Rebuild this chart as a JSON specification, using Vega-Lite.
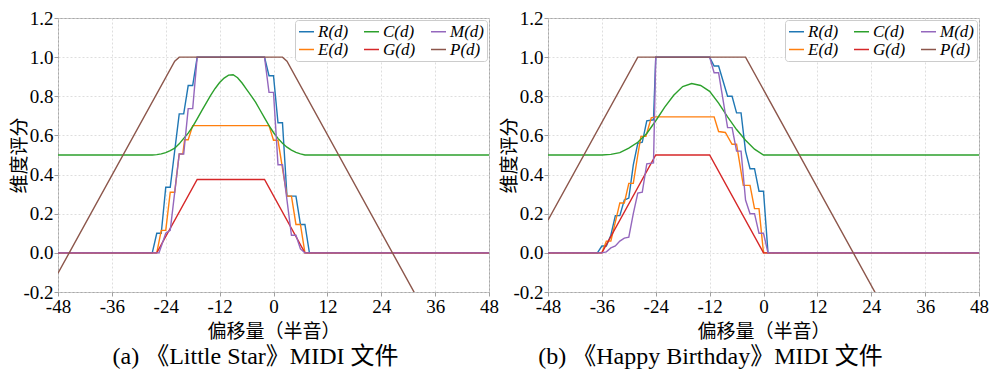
{
  "$schema": "https://vega.github.io/schema/vega-lite/v6.json",
  "padding": {"left": 9, "top": 8, "right": 5, "bottom": 5},
  "bounds": "flush",
  "spacing": 59,
  "config": {
    "font": "Liberation Serif, Noto Sans CJK SC",
    "view": {"stroke": "#a8a8a8", "strokeWidth": 1},
    "axis": {
      "labelFont": "Liberation Serif", "labelFontSize": 19, "labelColor": "black",
      "titleFont": "Liberation Serif, Noto Sans CJK SC", "titleFontSize": 19, "titleFontWeight": "normal", "titleColor": "black",
      "domain": false, "tickColor": "#888888", "tickSize": 4, "tickWidth": 0.8,
      "grid": true, "gridColor": "#d6d6d6", "gridDash": [2, 2], "gridWidth": 0.8,
      "labelFlush": false, "labelOverlap": false, "labelPadding": 1
    },
    "title": {"font": "Liberation Serif, Noto Sans CJK SC", "fontSize": 24, "fontWeight": "normal", "color": "black"},
    "legend": {
      "title": null, "orient": "top-right", "offset": 2, "columns": 3, "direction": "vertical",
      "symbolType": "stroke", "symbolSize": 225, "symbolStrokeWidth": 1.5,
      "labelFont": "Liberation Serif", "labelFontStyle": "italic", "labelFontSize": 17, "labelColor": "black",
      "fillColor": "white", "strokeColor": "#cccccc", "cornerRadius": 3, "padding": 3,
      "rowPadding": 0, "columnPadding": 12, "labelOffset": 3
    }
  },
  "resolve": {"scale": {"color": "independent"}, "legend": {"color": "independent"}},
  "datasets": {
    "a": [
      {"s":"R(d)","d":-48,"v":0},{"s":"R(d)","d":-27,"v":0},{"s":"R(d)","d":-26,"v":0.1},{"s":"R(d)","d":-25,"v":0.1},{"s":"R(d)","d":-24,"v":0.335},{"s":"R(d)","d":-23,"v":0.335},{"s":"R(d)","d":-21,"v":0.71},{"s":"R(d)","d":-20,"v":0.71},{"s":"R(d)","d":-19,"v":0.855},{"s":"R(d)","d":-18,"v":0.855},{"s":"R(d)","d":-17,"v":1},{"s":"R(d)","d":-2,"v":1},{"s":"R(d)","d":-1,"v":0.905},{"s":"R(d)","d":0,"v":0.905},{"s":"R(d)","d":1,"v":0.665},{"s":"R(d)","d":2,"v":0.665},{"s":"R(d)","d":3,"v":0.29},{"s":"R(d)","d":5,"v":0.29},{"s":"R(d)","d":6,"v":0.145},{"s":"R(d)","d":7,"v":0.145},{"s":"R(d)","d":8,"v":0},{"s":"R(d)","d":48,"v":0},
      {"s":"E(d)","d":-48,"v":0},{"s":"E(d)","d":-26,"v":0},{"s":"E(d)","d":-25,"v":0.115},{"s":"E(d)","d":-24,"v":0.115},{"s":"E(d)","d":-23,"v":0.31},{"s":"E(d)","d":-22,"v":0.31},{"s":"E(d)","d":-21,"v":0.505},{"s":"E(d)","d":-20.2,"v":0.505},{"s":"E(d)","d":-19.8,"v":0.578},{"s":"E(d)","d":-19,"v":0.578},{"s":"E(d)","d":-18,"v":0.65},{"s":"E(d)","d":-1,"v":0.65},{"s":"E(d)","d":0,"v":0.575},{"s":"E(d)","d":1,"v":0.575},{"s":"E(d)","d":3,"v":0.29},{"s":"E(d)","d":4,"v":0.29},{"s":"E(d)","d":5,"v":0.145},{"s":"E(d)","d":6,"v":0.145},{"s":"E(d)","d":7,"v":0},{"s":"E(d)","d":48,"v":0},
      {"s":"C(d)","d":-48,"v":0.5},{"s":"C(d)","d":-27,"v":0.5},{"s":"C(d)","d":-26,"v":0.502},{"s":"C(d)","d":-25,"v":0.506},{"s":"C(d)","d":-24,"v":0.512},{"s":"C(d)","d":-23,"v":0.522},{"s":"C(d)","d":-22,"v":0.535},{"s":"C(d)","d":-21,"v":0.557},{"s":"C(d)","d":-20,"v":0.585},{"s":"C(d)","d":-19,"v":0.612},{"s":"C(d)","d":-18,"v":0.645},{"s":"C(d)","d":-17,"v":0.685},{"s":"C(d)","d":-16,"v":0.725},{"s":"C(d)","d":-15,"v":0.765},{"s":"C(d)","d":-14,"v":0.805},{"s":"C(d)","d":-13,"v":0.84},{"s":"C(d)","d":-12,"v":0.87},{"s":"C(d)","d":-11,"v":0.893},{"s":"C(d)","d":-10,"v":0.908},{"s":"C(d)","d":-9,"v":0.91},{"s":"C(d)","d":-8,"v":0.895},{"s":"C(d)","d":-7,"v":0.868},{"s":"C(d)","d":-6,"v":0.835},{"s":"C(d)","d":-5,"v":0.803},{"s":"C(d)","d":-4,"v":0.77},{"s":"C(d)","d":-3,"v":0.73},{"s":"C(d)","d":-2,"v":0.69},{"s":"C(d)","d":-1,"v":0.65},{"s":"C(d)","d":0,"v":0.615},{"s":"C(d)","d":1,"v":0.585},{"s":"C(d)","d":2,"v":0.56},{"s":"C(d)","d":3,"v":0.54},{"s":"C(d)","d":4,"v":0.525},{"s":"C(d)","d":5,"v":0.513},{"s":"C(d)","d":6,"v":0.506},{"s":"C(d)","d":7,"v":0.5},{"s":"C(d)","d":48,"v":0.5},
      {"s":"G(d)","d":-48,"v":0},{"s":"G(d)","d":-26,"v":0},{"s":"G(d)","d":-17,"v":0.375},{"s":"G(d)","d":-2,"v":0.375},{"s":"G(d)","d":7,"v":0},{"s":"G(d)","d":48,"v":0},
      {"s":"M(d)","d":-48,"v":0},{"s":"M(d)","d":-25.5,"v":0},{"s":"M(d)","d":-24,"v":0.1},{"s":"M(d)","d":-23,"v":0.115},{"s":"M(d)","d":-21,"v":0.505},{"s":"M(d)","d":-20,"v":0.505},{"s":"M(d)","d":-19,"v":0.737},{"s":"M(d)","d":-18,"v":0.737},{"s":"M(d)","d":-17,"v":1},{"s":"M(d)","d":-2,"v":1},{"s":"M(d)","d":-1,"v":0.82},{"s":"M(d)","d":0,"v":0.82},{"s":"M(d)","d":1,"v":0.45},{"s":"M(d)","d":2,"v":0.45},{"s":"M(d)","d":4,"v":0.09},{"s":"M(d)","d":5,"v":0.09},{"s":"M(d)","d":6,"v":0.02},{"s":"M(d)","d":7,"v":0},{"s":"M(d)","d":48,"v":0},
      {"s":"P(d)","d":-48,"v":-0.104},{"s":"P(d)","d":-22,"v":0.979},{"s":"P(d)","d":-21,"v":1},{"s":"P(d)","d":2,"v":1},{"s":"P(d)","d":3,"v":0.979},{"s":"P(d)","d":48,"v":-0.896}
    ],
    "b": [
      {"s":"R(d)","d":-48,"v":0},{"s":"R(d)","d":-37,"v":0},{"s":"R(d)","d":-36,"v":0.035},{"s":"R(d)","d":-35,"v":0.035},{"s":"R(d)","d":-34,"v":0.09},{"s":"R(d)","d":-33,"v":0.19},{"s":"R(d)","d":-32,"v":0.19},{"s":"R(d)","d":-31,"v":0.27},{"s":"R(d)","d":-30,"v":0.28},{"s":"R(d)","d":-29,"v":0.45},{"s":"R(d)","d":-28,"v":0.56},{"s":"R(d)","d":-27,"v":0.565},{"s":"R(d)","d":-26,"v":0.675},{"s":"R(d)","d":-24.5,"v":0.68},{"s":"R(d)","d":-24,"v":1},{"s":"R(d)","d":-12,"v":1},{"s":"R(d)","d":-11,"v":0.955},{"s":"R(d)","d":-10,"v":0.955},{"s":"R(d)","d":-8,"v":0.8},{"s":"R(d)","d":-7,"v":0.8},{"s":"R(d)","d":-6,"v":0.715},{"s":"R(d)","d":-5,"v":0.715},{"s":"R(d)","d":-4,"v":0.52},{"s":"R(d)","d":-3,"v":0.43},{"s":"R(d)","d":-2,"v":0.43},{"s":"R(d)","d":-1,"v":0.315},{"s":"R(d)","d":0,"v":0.315},{"s":"R(d)","d":1,"v":0},{"s":"R(d)","d":48,"v":0},
      {"s":"E(d)","d":-48,"v":0},{"s":"E(d)","d":-36,"v":0},{"s":"E(d)","d":-35,"v":0.06},{"s":"E(d)","d":-34,"v":0.06},{"s":"E(d)","d":-32,"v":0.255},{"s":"E(d)","d":-31,"v":0.255},{"s":"E(d)","d":-30,"v":0.355},{"s":"E(d)","d":-29,"v":0.355},{"s":"E(d)","d":-28,"v":0.5},{"s":"E(d)","d":-27.3,"v":0.595},{"s":"E(d)","d":-26.2,"v":0.595},{"s":"E(d)","d":-25,"v":0.69},{"s":"E(d)","d":-24,"v":0.695},{"s":"E(d)","d":-11,"v":0.695},{"s":"E(d)","d":-10,"v":0.62},{"s":"E(d)","d":-8.5,"v":0.615},{"s":"E(d)","d":-7,"v":0.555},{"s":"E(d)","d":-6,"v":0.555},{"s":"E(d)","d":-4.5,"v":0.345},{"s":"E(d)","d":-3,"v":0.345},{"s":"E(d)","d":-2,"v":0.226},{"s":"E(d)","d":-1,"v":0.226},{"s":"E(d)","d":0,"v":0},{"s":"E(d)","d":48,"v":0},
      {"s":"C(d)","d":-48,"v":0.5},{"s":"C(d)","d":-36,"v":0.5},{"s":"C(d)","d":-34,"v":0.503},{"s":"C(d)","d":-32,"v":0.512},{"s":"C(d)","d":-30,"v":0.535},{"s":"C(d)","d":-28,"v":0.565},{"s":"C(d)","d":-26,"v":0.61},{"s":"C(d)","d":-24,"v":0.675},{"s":"C(d)","d":-22,"v":0.745},{"s":"C(d)","d":-20,"v":0.805},{"s":"C(d)","d":-18,"v":0.85},{"s":"C(d)","d":-16,"v":0.865},{"s":"C(d)","d":-14,"v":0.855},{"s":"C(d)","d":-12,"v":0.825},{"s":"C(d)","d":-10,"v":0.765},{"s":"C(d)","d":-8,"v":0.695},{"s":"C(d)","d":-6,"v":0.63},{"s":"C(d)","d":-4,"v":0.575},{"s":"C(d)","d":-2,"v":0.53},{"s":"C(d)","d":0,"v":0.5},{"s":"C(d)","d":48,"v":0.5},
      {"s":"G(d)","d":-48,"v":0},{"s":"G(d)","d":-36,"v":0},{"s":"G(d)","d":-24,"v":0.5},{"s":"G(d)","d":-12,"v":0.5},{"s":"G(d)","d":0,"v":0},{"s":"G(d)","d":48,"v":0},
      {"s":"M(d)","d":-48,"v":0},{"s":"M(d)","d":-36,"v":0},{"s":"M(d)","d":-35,"v":0.005},{"s":"M(d)","d":-34,"v":0.025},{"s":"M(d)","d":-33,"v":0.035},{"s":"M(d)","d":-32,"v":0.06},{"s":"M(d)","d":-31,"v":0.075},{"s":"M(d)","d":-30,"v":0.08},{"s":"M(d)","d":-29,"v":0.2},{"s":"M(d)","d":-28,"v":0.305},{"s":"M(d)","d":-27,"v":0.31},{"s":"M(d)","d":-26,"v":0.455},{"s":"M(d)","d":-24.5,"v":0.46},{"s":"M(d)","d":-24,"v":1},{"s":"M(d)","d":-12,"v":1},{"s":"M(d)","d":-11,"v":0.92},{"s":"M(d)","d":-10,"v":0.92},{"s":"M(d)","d":-8,"v":0.64},{"s":"M(d)","d":-7,"v":0.64},{"s":"M(d)","d":-6,"v":0.52},{"s":"M(d)","d":-5,"v":0.52},{"s":"M(d)","d":-4,"v":0.27},{"s":"M(d)","d":-3,"v":0.2},{"s":"M(d)","d":-2,"v":0.2},{"s":"M(d)","d":-1,"v":0.1},{"s":"M(d)","d":0,"v":0.1},{"s":"M(d)","d":1,"v":0},{"s":"M(d)","d":48,"v":0},
      {"s":"P(d)","d":-48,"v":0.1667},{"s":"P(d)","d":-28,"v":1},{"s":"P(d)","d":-4,"v":1},{"s":"P(d)","d":48,"v":-1.1667}
    ]
  },
  "hconcat": [
    {
      "width": 431, "height": 274,
      "data": {"name": "a"},
      "title": {"text": "(a) 《Little Star》MIDI 文件", "orient": "bottom", "anchor": "middle", "dx": -18, "offset": 4},
      "mark": {"type": "line", "strokeWidth": 1.4, "clip": true},
      "encoding": {
        "x": {"field": "d", "type": "quantitative", "scale": {"domain": [-48, 48], "nice": false, "zero": false},
              "axis": {"values": [-48, -36, -24, -12, 0, 12, 24, 36, 48], "title": "偏移量（半音）", "titlePadding": 6, "labelExpr": "replace(datum.label, '\u2212', '-')"}},
        "y": {"field": "v", "type": "quantitative", "scale": {"domain": [-0.2, 1.2], "nice": false, "zero": false},
              "axis": {"values": [-0.2, 0, 0.2, 0.4, 0.6, 0.8, 1.0, 1.2], "format": ".1f", "title": "维度评分", "titleX": -29, "titleY": 137, "titleBaseline": "bottom", "labelExpr": "replace(datum.label, '\u2212', '-')"}},
        "color": {"field": "s", "type": "nominal",
                  "scale": {"domain": ["R(d)", "E(d)", "C(d)", "G(d)", "M(d)", "P(d)"], "range": ["#1f77b4", "#ff7f0e", "#2ca02c", "#d62728", "#9467bd", "#8c564b"]}}
      }
    },
    {
      "width": 431, "height": 274,
      "data": {"name": "b"},
      "title": {"text": "(b) 《Happy Birthday》MIDI 文件", "orient": "bottom", "anchor": "middle", "dx": -53, "offset": 4},
      "mark": {"type": "line", "strokeWidth": 1.4, "clip": true},
      "encoding": {
        "x": {"field": "d", "type": "quantitative", "scale": {"domain": [-48, 48], "nice": false, "zero": false},
              "axis": {"values": [-48, -36, -24, -12, 0, 12, 24, 36, 48], "title": "偏移量（半音）", "titlePadding": 6, "labelExpr": "replace(datum.label, '\u2212', '-')"}},
        "y": {"field": "v", "type": "quantitative", "scale": {"domain": [-0.2, 1.2], "nice": false, "zero": false},
              "axis": {"values": [-0.2, 0, 0.2, 0.4, 0.6, 0.8, 1.0, 1.2], "format": ".1f", "title": "维度评分", "titleX": -29, "titleY": 137, "titleBaseline": "bottom", "labelExpr": "replace(datum.label, '\u2212', '-')"}},
        "color": {"field": "s", "type": "nominal",
                  "scale": {"domain": ["R(d)", "E(d)", "C(d)", "G(d)", "M(d)", "P(d)"], "range": ["#1f77b4", "#ff7f0e", "#2ca02c", "#d62728", "#9467bd", "#8c564b"]}}
      }
    }
  ]
}
